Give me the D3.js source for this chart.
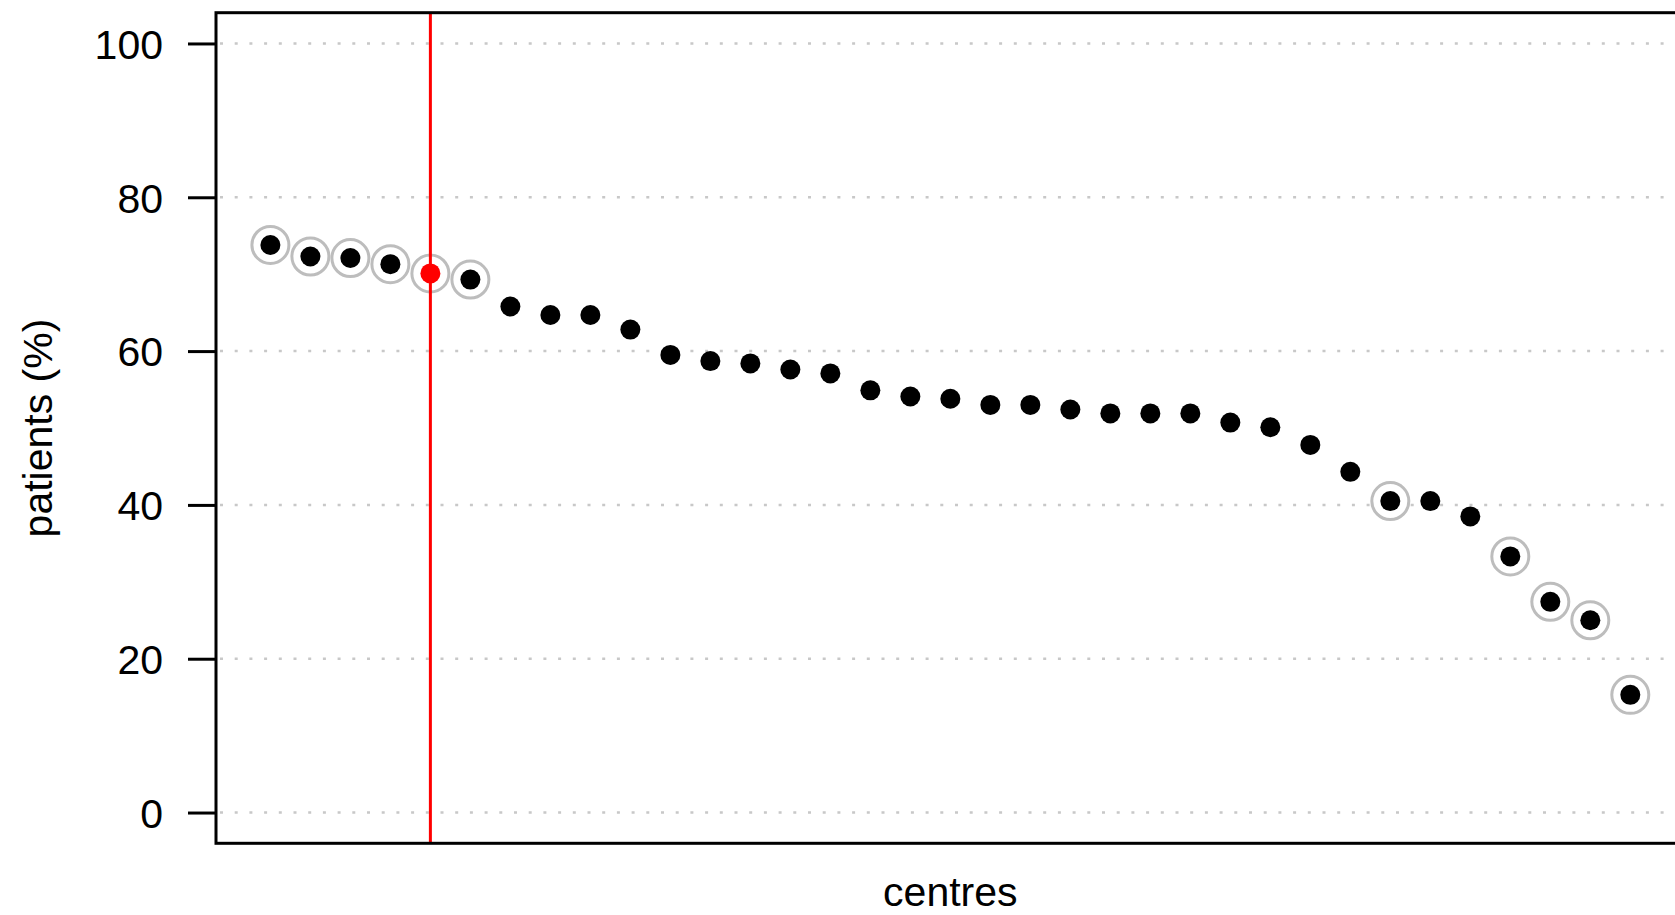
<!DOCTYPE html>
<html>
<head>
<meta charset="utf-8">
<script src="https://cdn.jsdelivr.net/npm/d3@7"></script>
<style>
  html, body { margin: 0; padding: 0; background: #fff; overflow: hidden; }
  text { font-family: "Liberation Sans", Arial, sans-serif; fill: #000; }
</style>
</head>
<body>
<div id="chart"></div>
<script>
// percentage of patients per centre, sorted high to low
const centres = d3.range(1, 36);
const patients = [
  73.8, 72.3, 72.1, 71.3, 70.1, 69.3, 65.8, 64.7, 64.7, 62.8,
  59.5, 58.7, 58.4, 57.6, 57.1, 54.9, 54.1, 53.8, 53.0, 53.0,
  52.4, 51.9, 51.9, 51.9, 50.7, 50.1, 47.8, 44.3, 40.5, 40.5,
  38.5, 33.3, 27.4, 25.0, 15.3
];
// centres marked with a grey ring
const flagged = [1, 2, 3, 4, 5, 6, 29, 32, 33, 34, 35];
// centre singled out in red
const highlight = 5;
const yTicks = [0, 20, 40, 60, 80, 100];

const width = 1675, height = 915;
const svg = d3.select("#chart").append("svg").attr("width", width).attr("height", height);

// R style axis padding: 4% on each side
const x = d3.scaleLinear().domain([1 - 34 * 0.04, 35 + 34 * 0.04]).range([216, 1684.7]);
const y = d3.scaleLinear().domain([-4, 104]).range([843.3, 12.7]);

const data = centres.map((c, i) => ({ centre: c, value: patients[i] }));

// dotted grid
svg.append("g").selectAll("line").data(yTicks).enter().append("line")
  .attr("x1", x.range()[0] + 4).attr("x2", width)
  .attr("y1", d => y(d)).attr("y2", d => y(d))
  .attr("stroke", "#c8c8c8").attr("stroke-width", 2.5)
  .attr("stroke-dasharray", "3,11.7");

// y axis
const yAxis = d3.axisLeft(y).tickValues(yTicks).tickSize(28).tickPadding(25);
const ga = svg.append("g").attr("transform", `translate(${x.range()[0]},0)`).call(yAxis);
ga.select(".domain").remove();
ga.selectAll(".tick line").attr("stroke", "#000").attr("stroke-width", 3);
ga.selectAll(".tick text").attr("font-size", 41).attr("dy", "0.36em")
  .style("font-family", "'Liberation Sans', Arial, sans-serif").attr("fill", "#000");

// rings
svg.append("g").selectAll("circle").data(data.filter(d => flagged.includes(d.centre))).enter()
  .append("circle")
  .attr("cx", d => x(d.centre)).attr("cy", d => y(d.value)).attr("r", 18.5)
  .attr("fill", "none").attr("stroke", "#bdbdbd").attr("stroke-width", 3);

// red reference line
svg.append("line")
  .attr("x1", x(highlight)).attr("x2", x(highlight))
  .attr("y1", y.range()[1]).attr("y2", y.range()[0])
  .attr("stroke", "#ff0000").attr("stroke-width", 3);

// points
svg.append("g").selectAll("circle").data(data).enter().append("circle")
  .attr("cx", d => x(d.centre)).attr("cy", d => y(d.value)).attr("r", 10)
  .attr("fill", d => d.centre === highlight ? "#ff0000" : "#000");

// frame
svg.append("rect")
  .attr("x", x.range()[0]).attr("y", y.range()[1])
  .attr("width", x.range()[1] - x.range()[0]).attr("height", y.range()[0] - y.range()[1])
  .attr("fill", "none").attr("stroke", "#000").attr("stroke-width", 3);

// labels
svg.append("text").attr("x", (x.range()[0] + x.range()[1]) / 2).attr("y", 906)
  .attr("text-anchor", "middle").attr("font-size", 41).text("centres");
svg.append("text").attr("transform", "translate(52,428) rotate(-90)")
  .attr("text-anchor", "middle").attr("font-size", 41).text("patients (%)");
</script>
</body>
</html>
